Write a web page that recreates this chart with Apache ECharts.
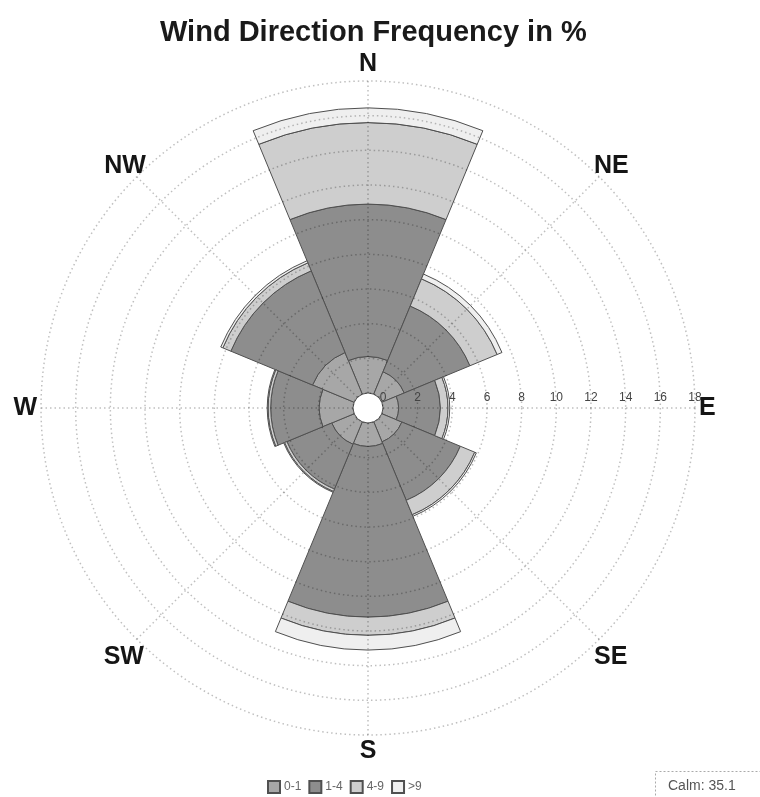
<!DOCTYPE html>
<html>
<head>
<meta charset="utf-8">
<script src="https://cdn.jsdelivr.net/npm/echarts@6/dist/echarts.min.js"></script>
<style>
html,body{margin:0;padding:0;background:#fff;}
#chart{width:760px;height:797px;}
</style>
</head>
<body>
<div id="chart"></div>
<script>
// ---- data ----
var directions = ['N', 'NE', 'E', 'SE', 'S', 'SW', 'W', 'NW'];
var speedClasses = ['0-1', '1-4', '4-9', '>9'];
var speed0to1 = [2.1, 1.4, 0.9, 1.25, 1.35, 1.4, 1.95, 2.6];
var speed1to4 = [8.8, 4.1, 2.4, 3.65, 9.85, 2.8, 2.8, 5.1];
var speed4to9 = [4.7, 1.7, 0.45, 0.9, 1.05, 0.15, 0.15, 0.5];
var speedOver9 = [0.85, 0.3, 0.1, 0.1, 0.85, 0.05, 0.05, 0.13];
var radiusTicks = ['0', '2', '4', '6', '8', '10', '12', '14', '16', '18'];
var calmValue = 35.1;

var seriesValues = [speed0to1, speed1to4, speed4to9, speedOver9];
var colors = ['#a7a7a7', '#8d8d8d', '#cecece', '#efefef'];

// small label nudges for the diagonal direction names (style only)
var labelPadding = {
  'NE': [0, 0, -5, -8],
  'SE': [3, 0, 0, -8],
  'SW': [3, -10, 0, 0],
  'NW': [0, -12, -5, 0]
};
var angleData = directions.map(function (d) {
  return labelPadding[d] ? {value: d, textStyle: {padding: labelPadding[d]}} : d;
});

var chart = echarts.init(document.getElementById('chart'), null, {renderer: 'canvas'});
var center = [368, 408];
var radius = [15, 327];
var gridLine = {show: true, lineStyle: {color: 'rgba(0,0,0,0.25)', width: 1.5, type: [1.5, 3]}};

var option = {
  backgroundColor: '#ffffff',
  animation: false,
  title: {
    text: 'Wind Direction Frequency in %',
    left: 155,
    top: 13,
    textStyle: {fontSize: 29, fontWeight: 'bold', color: '#1a1a1a', fontFamily: 'Liberation Sans'}
  },
  legend: {
    data: speedClasses,
    left: 262,
    top: 775,
    itemWidth: 12,
    itemHeight: 12,
    itemGap: 7,
    icon: 'rect',
    textStyle: {fontSize: 12, color: '#666', fontFamily: 'Liberation Sans', padding: [0, 0, 0, -1]}
  },
  polar: [
    {center: center, radius: radius},
    {center: center, radius: radius}
  ],
  angleAxis: [
    {
      polarIndex: 0,
      type: 'category',
      data: angleData,
      startAngle: 112.5,
      clockwise: true,
      boundaryGap: true,
      axisLine: {show: false},
      axisTick: {show: false},
      splitLine: {show: false},
      axisLabel: {show: true, margin: 4, fontSize: 25, fontWeight: 'bold', color: '#151515', fontFamily: 'Liberation Sans'}
    },
    {
      polarIndex: 1,
      type: 'value',
      min: 0,
      max: 360,
      interval: 45,
      startAngle: 0,
      clockwise: true,
      z: 5,
      axisLine: {show: false},
      axisTick: {show: false},
      axisLabel: {show: false},
      splitLine: gridLine
    }
  ],
  radiusAxis: [
    {
      polarIndex: 0,
      type: 'value',
      min: 0,
      max: 18,
      axisLine: {show: false},
      axisTick: {show: false},
      axisLabel: {show: false},
      splitLine: {show: false}
    },
    {
      polarIndex: 1,
      type: 'value',
      min: 0,
      max: 18,
      interval: 2,
      z: 5,
      axisLine: {show: false},
      axisTick: {show: false},
      axisLabel: {
        show: true,
        margin: 4,
        fontSize: 12,
        color: '#444',
        fontFamily: 'Liberation Sans',
        formatter: function (v) { return radiusTicks[Math.round(v / 2)]; }
      },
      splitLine: gridLine
    }
  ],
  series: seriesValues.map(function (vals, i) {
    return {
      name: speedClasses[i],
      type: 'bar',
      coordinateSystem: 'polar',
      polarIndex: 0,
      stack: 'wind',
      barCategoryGap: '0%',
      data: vals,
      itemStyle: {color: colors[i], borderColor: '#505050', borderWidth: 1}
    };
  }),
  graphic: [
    {
      type: 'rect',
      left: 655,
      top: 771,
      shape: {width: 110, height: 32},
      style: {fill: '#fff', stroke: '#aaa', lineWidth: 1, lineDash: [2, 2]}
    },
    {
      type: 'text',
      left: 668,
      top: 779,
      style: {text: 'Calm: ' + calmValue, fontSize: 14, fill: '#555', fontFamily: 'Liberation Sans'}
    }
  ]
};
chart.setOption(option);
</script>
</body>
</html>
